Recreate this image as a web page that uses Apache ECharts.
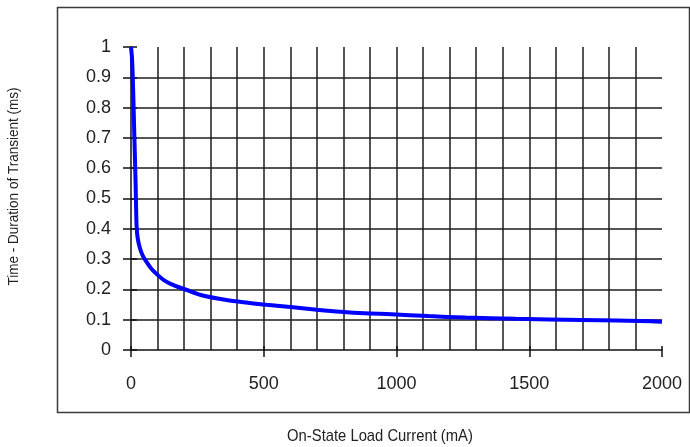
<!DOCTYPE html>
<html>
<head>
<meta charset="utf-8">
<script src="https://cdn.jsdelivr.net/npm/echarts@6/dist/echarts.min.js"></script>
<style>
html,body{margin:0;padding:0;background:#fff;}
#chart{width:690px;height:447px;}
</style>
</head>
<body>
<div id="chart"></div>
<script>
// Data
const currentMA = [0, 4, 8, 11, 14, 17, 19, 21, 25, 34, 45, 59, 75, 100, 125, 160, 210, 270, 360, 440, 510, 610, 700, 790, 880, 980, 1120, 1260, 1450, 1700, 1960, 2000];
const durationMs = [1.0, 0.96, 0.86, 0.76, 0.66, 0.56, 0.48, 0.41, 0.37, 0.335, 0.31, 0.29, 0.27, 0.248, 0.23, 0.214, 0.198, 0.18, 0.165, 0.156, 0.149, 0.141, 0.133, 0.126, 0.121, 0.118, 0.112, 0.107, 0.103, 0.099, 0.095, 0.093];
const xTickLabels = ['0', '500', '1000', '1500', '2000'];
const yTickLabels = ['0', '0.1', '0.2', '0.3', '0.4', '0.5', '0.6', '0.7', '0.8', '0.9', '1'];
const xTitle = 'On-State Load Current (mA)';
const yTitle = 'Time - Duration of Transient (ms)';

const points = currentMA.map((v, i) => [v, durationMs[i]]);
const gridColor = '#1e1e1e';
const labelFont = {color: '#222', fontFamily: 'Liberation Sans, Arial, sans-serif', fontSize: 18};

const chart = echarts.init(document.getElementById('chart'), null, {renderer: 'canvas'});
chart.setOption({
  animation: false,
  backgroundColor: '#fff',
  grid: {left: 131, right: 28, top: 47, bottom: 97, containLabel: false},
  xAxis: [{
    type: 'value', min: 0, max: 2000, interval: 500,
    axisLine: {show: true, lineStyle: {color: '#111', width: 1.5}},
    axisTick: {show: true, length: 7, lineStyle: {color: '#111', width: 1.5}},
    axisLabel: Object.assign({margin: 25, formatter: (v) => xTickLabels[Math.round(v / 500)]}, labelFont),
    splitLine: {show: true, showMinLine: false, showMaxLine: false, lineStyle: {color: gridColor, width: 1.5}},
    minorTick: {show: false, splitNumber: 5},
    minorSplitLine: {show: true, lineStyle: {color: gridColor, width: 1.5}}
  }, {
    type: 'value', min: 0, max: 2000, interval: 500, position: 'bottom',
    axisLine: {show: false},
    axisTick: {show: true, inside: true, length: 4, lineStyle: {color: '#111', width: 1.5}},
    axisLabel: {show: false}, splitLine: {show: false}
  }],
  yAxis: [{
    type: 'value', min: 0, max: 1, interval: 0.1,
    axisLine: {show: true, lineStyle: {color: '#111', width: 1.5}},
    axisTick: {show: true, length: 8, lineStyle: {color: '#111', width: 1.5}},
    axisLabel: Object.assign({margin: 20, formatter: (v) => yTickLabels[Math.round(v * 10)]}, labelFont),
    splitLine: {show: true, showMinLine: false, showMaxLine: false, lineStyle: {color: gridColor, width: 1.5}}
  }, {
    type: 'value', min: 0, max: 1, interval: 0.1, position: 'left',
    axisLine: {show: false},
    axisTick: {show: true, inside: true, length: 6, lineStyle: {color: '#111', width: 1.5}},
    axisLabel: {show: false}, splitLine: {show: false}
  }],
  series: [{
    type: 'line',
    xAxisIndex: 0, yAxisIndex: 0,
    data: points,
    smooth: 0.3,
    showSymbol: false,
    lineStyle: {color: '#0000ff', width: 4},
    z: 5
  }],
  graphic: [
    {type: 'rect', silent: true, shape: {x: 57.5, y: 7.5, width: 632, height: 405},
     style: {fill: 'none', stroke: '#3a3a3a', lineWidth: 1.5}, z: -1},
    {type: 'text', x: 380, y: 436, scaleX: 0.87, silent: true,
     style: {text: xTitle, fill: '#222', font: '17px "Liberation Sans", Arial, sans-serif', textAlign: 'center', textVerticalAlign: 'middle'}},
    {type: 'text', x: 14, y: 186.5, rotation: Math.PI / 2, scaleX: 0.9, silent: true,
     style: {text: yTitle, fill: '#222', font: '15px "Liberation Sans", Arial, sans-serif', textAlign: 'center', textVerticalAlign: 'middle'}}
  ]
});
</script>
</body>
</html>
